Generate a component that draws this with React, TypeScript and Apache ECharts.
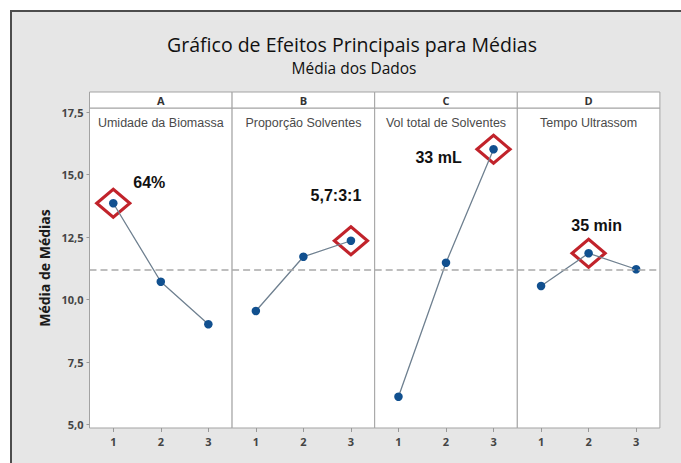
import React, { useEffect, useRef } from 'react';
import * as echarts from 'echarts';

const factorCodes = ['A', 'B', 'C', 'D'];
const factorNames = ['Umidade da Biomassa', 'Proporção Solventes', 'Vol total de Solventes', 'Tempo Ultrassom'];
const levels = ['1', '2', '3'];
const meansA = [13.85, 10.71, 9.01];
const meansB = [9.54, 11.71, 12.35];
const meansC = [6.11, 11.47, 16.01];
const meansD = [10.54, 11.85, 11.21];
const grandMean = 11.2;
const yTicks = [5, 7.5, 10, 12.5, 15, 17.5];
const bestLevelIndex = [0, 2, 2, 1];
const bestLabels = ['64%', '5,7:3:1', '33 mL', '35 min'];

const allMeans = [meansA, meansB, meansC, meansD];

// layout (styles only)
const PLOT_LEFT = 89.5;
const PANEL_W = 142.6;
const GRID_TOP = 108;
const GRID_H = 320;
const Y_MIN = 4.86;
const Y_MAX = 17.66;
const labelOffsets: [number, number][] = [[36, -21], [-15, -45], [-55, 8], [8, -28]];

export default function App() {
  const ref = useRef<HTMLDivElement>(null);
  useEffect(() => {
    if (!ref.current) return;
    const chart = echarts.init(ref.current, undefined, { renderer: 'svg' });
    const grids: any[] = [];
    const xAxes: any[] = [];
    const yAxes: any[] = [];
    const series: any[] = [];
    const graphics: any[] = [
      {
        type: 'rect',
        z: -100,
        shape: { x: 11, y: 11, width: 700, height: 470 },
        style: { fill: '#e6e6e6', stroke: '#4d4d4d', lineWidth: 2 },
      },
      {
        type: 'text',
        x: 352,
        y: 44.5,
        style: {
          text: 'Gráfico de Efeitos Principais para Médias',
          font: '19.5px "Open Sans"',
          lineHeight: 20,
          fill: '#111111',
          textAlign: 'center',
          textVerticalAlign: 'middle',
        },
      },
      {
        type: 'text',
        x: 354,
        y: 68,
        style: {
          text: 'Média dos Dados',
          font: '15.5px "Open Sans"',
          lineHeight: 16,
          fill: '#111111',
          textAlign: 'center',
          textVerticalAlign: 'middle',
        },
      },
    ];

    factorCodes.forEach((code, i) => {
      const left = PLOT_LEFT + i * PANEL_W;
      grids.push({
        left,
        top: GRID_TOP,
        width: PANEL_W,
        height: GRID_H,
        show: true,
        backgroundColor: '#ffffff',
        borderColor: '#a3a3a3',
        borderWidth: 1,
      });
      xAxes.push({
        type: 'category',
        gridIndex: i,
        data: levels,
        boundaryGap: true,
        axisLine: { show: false },
        axisTick: { show: true, alignWithLabel: true, length: 4, lineStyle: { color: '#999' } },
        axisLabel: { color: '#444', fontSize: 11, fontFamily: 'Open Sans', fontWeight: 'bold', margin: 8 },
        splitLine: { show: false },
      });
      yAxes.push({
        type: 'value',
        gridIndex: i,
        min: Y_MIN,
        max: Y_MAX,
        axisLine: { show: false },
        splitLine: { show: false },
        axisTick: { show: i === 0, customValues: yTicks, length: 3, lineStyle: { color: '#999' } },
        axisLabel: {
          show: i === 0,
          customValues: yTicks,
          color: '#444',
          fontSize: 11,
          fontFamily: 'Open Sans',
          fontWeight: 'bold',
          margin: 6,
          formatter: (v: number) => v.toFixed(1).replace('.', ','),
        },
        name: i === 0 ? 'Média de Médias' : '',
        nameLocation: 'middle',
        nameGap: 38,
        nameRotate: 90,
        nameTextStyle: { fontSize: 14, fontWeight: 'bold', fontFamily: 'Open Sans', color: '#1a1a1a' },
      });
      series.push({
        type: 'line',
        xAxisIndex: i,
        yAxisIndex: i,
        data: allMeans[i],
        symbol: 'circle',
        symbolSize: 8.5,
        itemStyle: { color: '#11508f' },
        lineStyle: { color: '#6f8090', width: 1.3 },
        z: 3,
        markLine: {
          silent: true,
          symbol: 'none',
          label: { show: false },
          lineStyle: { type: [7, 4], color: '#a9a9a9', width: 1.5 },
          data: [{ yAxis: grandMean }],
        },
      });
      const b = bestLevelIndex[i];
      series.push({
        type: 'scatter',
        xAxisIndex: i,
        yAxisIndex: i,
        data: [[levels[b], allMeans[i][b]]],
        symbol: 'diamond',
        symbolSize: [33, 28],
        itemStyle: { color: 'rgba(0,0,0,0)', borderColor: '#c1232b', borderWidth: 3.2, opacity: 1 },
        z: 2,
        label: {
          show: true,
          position: 'inside',
          offset: labelOffsets[i],
          formatter: bestLabels[i],
          fontSize: 16,
          fontWeight: 'bold',
          fontFamily: 'Liberation Sans',
          color: '#111',
        },
      });
      graphics.push({
        type: 'rect',
        shape: { x: left, y: 92, width: PANEL_W, height: 16 },
        style: { fill: '#ffffff', stroke: '#a3a3a3', lineWidth: 1 },
      });
      graphics.push({
        type: 'text',
        x: left + PANEL_W / 2,
        y: 100,
        style: {
          text: code,
          font: 'bold 11px "Open Sans"',
          fill: '#333',
          textAlign: 'center',
          textVerticalAlign: 'middle',
        },
      });
      graphics.push({
        type: 'text',
        x: left + PANEL_W / 2,
        y: 123,
        style: {
          text: factorNames[i],
          font: '12.5px "Liberation Sans"',
          fill: '#4a4a4a',
          textAlign: 'center',
          textVerticalAlign: 'middle',
        },
      });
    });

    chart.setOption({
      animation: false,
      backgroundColor: '#ffffff',
      grid: grids,
      xAxis: xAxes,
      yAxis: yAxes,
      series,
      graphic: graphics,
    });
    return () => chart.dispose();
  }, []);
  return <div ref={ref} style={{ position: 'fixed', left: 0, top: 0, width: 681, height: 463 }} />;
}
